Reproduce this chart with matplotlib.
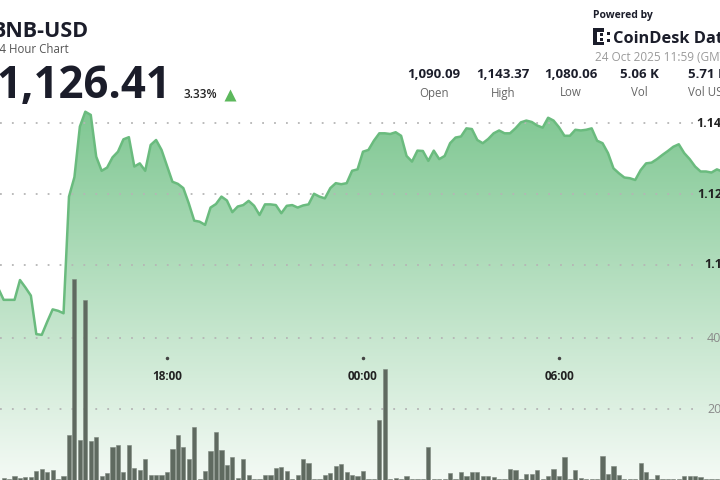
import matplotlib.pyplot as plt
import numpy as np
from matplotlib.colors import to_rgb
from matplotlib.patches import Rectangle
from matplotlib.transforms import blended_transform_factory

plt.rcParams['font.family'] = ['Open Sans', 'DejaVu Sans']

# 10-minute closes, first point at 12:50 (minutes after midnight of day one)
price_start = 770
price = [1093.4, 1090.1, 1090.1, 1090.1, 1095.7, 1093.6, 1091.3, 1080.4, 1080.2, 1083.9,
         1087.4, 1087.0, 1086.3, 1119.3, 1124.8, 1139.1, 1143.3, 1142.4, 1130.6, 1126.6,
         1127.5, 1130.4, 1132.0, 1135.5, 1136.1, 1127.8, 1128.7, 1126.6, 1133.9, 1135.3,
         1132.5, 1128.0, 1123.5, 1122.9, 1121.7, 1117.4, 1112.5, 1112.2, 1111.3, 1116.2,
         1117.2, 1119.3, 1118.2, 1114.9, 1116.5, 1116.9, 1118.1, 1116.7, 1114.1, 1117.1,
         1117.1, 1116.9, 1114.6, 1116.7, 1116.9, 1116.2, 1116.8, 1117.1, 1120.1, 1119.3,
         1118.8, 1121.7, 1123.1, 1122.8, 1123.1, 1126.6, 1127.0, 1132.0, 1132.5, 1135.1,
         1137.2, 1137.2, 1137.0, 1137.5, 1136.5, 1130.8, 1129.2, 1132.3, 1132.2, 1129.4,
         1132.3, 1129.9, 1130.8, 1134.4, 1136.0, 1136.3, 1138.6, 1138.4, 1135.3, 1134.4,
         1135.6, 1137.2, 1138.0, 1137.2, 1137.2, 1138.6, 1140.3, 1140.8, 1140.4, 1139.4,
         1138.8, 1141.6, 1140.8, 1138.9, 1136.5, 1136.5, 1138.2, 1138.0, 1138.2, 1138.6,
         1135.1, 1134.4, 1131.6, 1127.3, 1125.9, 1124.7, 1124.5, 1124.0, 1126.8, 1128.7,
         1128.9, 1129.9, 1131.1, 1132.2, 1133.4, 1134.1, 1131.6, 1129.9, 1127.8, 1126.4,
         1126.4, 1126.1, 1127.0, 1126.4]

# 10-minute volume bars, first bar at 13:00
vol_start = 780
volume = [5, 4, 11, 5, 8, 8, 25, 32, 23, 28, 3, 11, 127, 567, 114, 508, 111, 122, 11, 20,
          93, 99, 23, 99, 34, 28, 59, 15, 15, 15, 23, 88, 127, 93, 59, 149, 4, 25, 82, 136,
          85, 42, 65, 5, 58, 15, 3, 3, 15, 15, 33, 37, 25, 3, 15, 58, 47, 3, 3, 15,
          19, 39, 44, 22, 15, 10, 25, 3, 3, 169, 313, 3, 5, 3, 10, 3, 3, 3, 94, 3,
          3, 4, 19, 3, 22, 12, 24, 22, 12, 11, 9, 4, 4, 30, 29, 4, 17, 17, 29, 4,
          12, 30, 12, 64, 4, 29, 7, 3, 3, 3, 67, 17, 40, 15, 3, 3, 3, 48, 24, 3,
          14, 3, 3, 3, 3, 10, 10, 12, 8, 3, 3, 3]

tick_minutes = [1080, 1440, 1800]
tick_labels = ["18:00", "00:00", "06:00"]
price_grid = [1140, 1120, 1100]
price_grid_labels = ["1.14K", "1.12K", "1.1K"]
vol_grid = [400, 200]
vol_grid_labels = ["400", "200"]

stat_values = ["1,090.09", "1,143.37", "1,080.06", "5.06 K", "5.71 M"]
stat_names = ["Open", "High", "Low", "Vol", "Vol USD"]
stat_x = [434, 503, 571, 639, 709]

t_price = price_start + 10 * np.arange(len(price))
t_vol = vol_start + 10 * np.arange(len(volume))

x0, x1 = 773.3, 2095.7
y0, y1 = 1039.15, 1174.9

fig = plt.figure(figsize=(7.2, 4.8), dpi=100)
fig.patch.set_facecolor('white')

ax = fig.add_axes([0, 0, 1, 1])
ax.set_xlim(x0, x1)
ax.set_ylim(y0, y1)
ax.axis('off')

# gradient area under the price line
top = np.array(to_rgb('#7fc792'))
bot = np.array(to_rgb('#f4faf5'))
g = np.linspace(0, 1, 256)[:, None]
grad = (bot[None, :] * (1 - g) + top[None, :] * g)[:, None, :]
poly = ax.fill_between(t_price, price, y0, color='none', lw=0)
im = ax.imshow(grad, extent=[x0, x1, y0, 1144], origin='lower', aspect='auto',
               zorder=1, interpolation='bilinear')
im.set_clip_path(poly.get_paths()[0], transform=ax.transData)
ax.set_xlim(x0, x1)
ax.set_ylim(y0, y1)
ax.plot(t_price, price, color='#6abb7e', lw=1.8, zorder=3, solid_joinstyle='round')

for v in price_grid:
    ax.axhline(v, xmin=0, xmax=0.962, color='#b5b5b5', lw=1.3,
               linestyle=(0, (1, 5.6)), zorder=2)

ytr = blended_transform_factory(ax.transAxes, ax.transData)
for v, lab in zip(price_grid, price_grid_labels):
    ax.text(1.014, v, lab, transform=ytr, ha='right', va='center',
            fontsize=9, fontweight='bold', color='#222222')

# volume bars
axv = fig.add_axes([0, 0, 1, 1], sharex=ax)
axv.patch.set_alpha(0)
axv.set_ylim(0, 1356)
axv.axis('off')
for v in vol_grid:
    axv.axhline(v, xmin=0, xmax=0.975, color='#b5b5b5', lw=1.3,
                linestyle=(0, (1, 5.6)), zorder=1)
axv.bar(t_vol, volume, width=7.6, color='#5f6a60', edgecolor='#7d877e',
        linewidth=0.4, zorder=3)
vtr = blended_transform_factory(axv.transAxes, axv.transData)
for v, lab in zip(vol_grid, vol_grid_labels):
    axv.text(1.012, v, lab, transform=vtr, ha='right', va='center',
             fontsize=9, color='#8a8a8a')

# time axis labels
xtr = blended_transform_factory(ax.transData, ax.transAxes)
for m, lab in zip(tick_minutes, tick_labels):
    ax.plot([m], [1 - 358 / 480], transform=xtr, marker='o', ms=1.5,
            color='#444444', zorder=4)
    ax.text(m, 1 - 377 / 480, lab, transform=xtr, ha='center', va='center',
            fontsize=8.5, fontweight='bold', color='#222222', zorder=4)

# header, in pixel coordinates
hd = fig.add_axes([0, 0, 1, 1])
hd.set_xlim(0, 720)
hd.set_ylim(480, 0)
hd.patch.set_alpha(0)
hd.axis('off')

dark = '#1b1d2a'
hd.text(-9, 37, "BNB-USD", fontsize=15.5, fontweight='bold', color=dark, va='baseline')
hd.text(-7, 53, "24 Hour Chart", fontsize=8.3, color='#555555', va='baseline')
hd.text(-4, 98.5, "1,126.41", fontsize=31.5, fontweight='bold', color=dark, va='baseline')
hd.text(183, 98, "3.33%", fontsize=8.5, fontweight='semibold', color='#222222', va='baseline')
hd.plot([230], [94.5], marker='^', ms=9, color='#5cb85c', mec='none')

hd.text(593, 18, "Powered by", fontsize=7.5, fontweight='bold', color=dark, va='baseline')
for (rx, ry, rw, rh) in [(593, 28, 4, 17), (593, 28, 11, 3.5), (593, 41.5, 11, 3.5),
                         (600, 33, 3, 3), (600, 37.5, 3, 3), (607, 32, 3, 3),
                         (607, 38.5, 3, 3)]:
    hd.add_patch(Rectangle((rx, ry), rw, rh, color=dark, lw=0))
hd.text(613, 43, "CoinDesk Data", fontsize=11.8, fontweight='bold', color=dark,
        va='baseline')
hd.text(595, 61, "24 Oct 2025 11:59 (GMT)", fontsize=8.5, color='#9a9a9a', va='baseline')

for x, val, name in zip(stat_x, stat_values, stat_names):
    hd.text(x, 77.5, val, fontsize=9.5, fontweight='bold', color=dark,
            ha='center', va='baseline')
    hd.text(x, 96.5, name, fontsize=8.3, color='#666666', ha='center', va='baseline')

fig.savefig('out.png', dpi=100)
